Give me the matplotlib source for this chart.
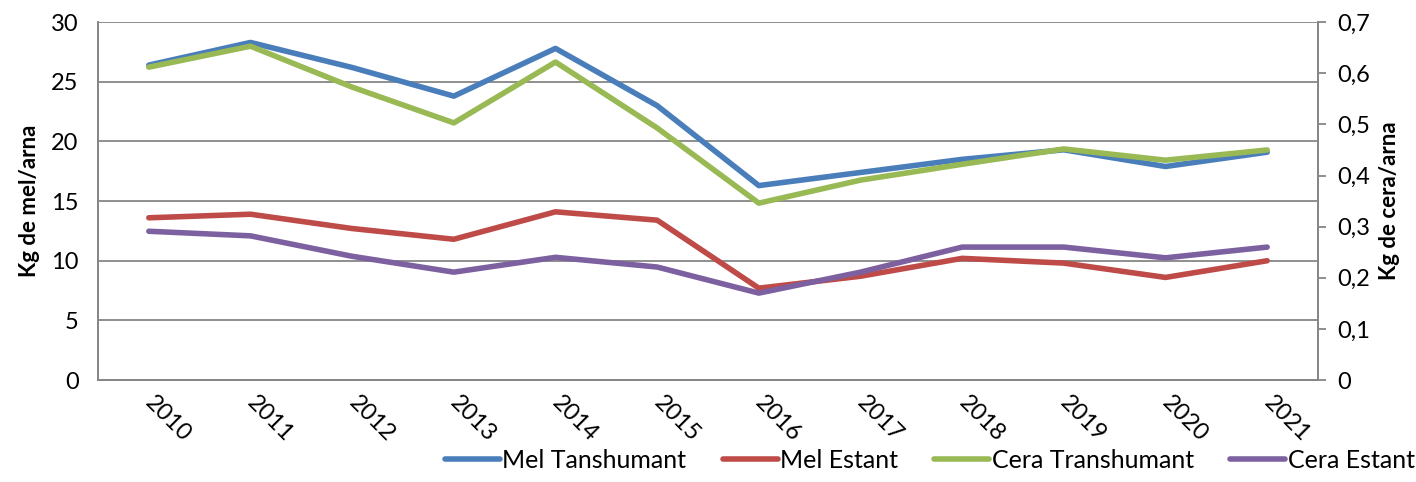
import matplotlib
matplotlib.use("Agg")
import matplotlib.pyplot as plt
from matplotlib.ticker import FuncFormatter

plt.rcParams['font.family'] = ['Lato', 'DejaVu Sans']

years = ['2010', '2011', '2012', '2013', '2014', '2015',
         '2016', '2017', '2018', '2019', '2020', '2021']
mel_trans = [26.4, 28.3, 26.2, 23.8, 27.8, 23.0, 16.3, 17.4, 18.5, 19.3, 17.9, 19.1]
mel_estant = [13.6, 13.9, 12.7, 11.8, 14.1, 13.4, 7.7, 8.7, 10.2, 9.8, 8.6, 10.0]
cera_trans = [0.612, 0.653, 0.573, 0.503, 0.622, 0.493, 0.346, 0.391, 0.422, 0.452, 0.430, 0.450]
cera_estant = [0.291, 0.282, 0.242, 0.211, 0.240, 0.221, 0.170, 0.211, 0.260, 0.260, 0.239, 0.260]

c_blue = '#4A7EBB'
c_red = '#BE4B48'
c_green = '#98B954'
c_purple = '#7D60A0'
grey = '#868686'

fig = plt.figure(figsize=(14.16, 4.82), dpi=100)
ax = fig.add_axes([0.0692, 0.2116, 0.8616, 0.7424])
ax2 = ax.twinx()

x = range(len(years))
l1, = ax.plot(x, mel_trans, color=c_blue, lw=4, solid_capstyle='round', label='Mel Tanshumant')
l2, = ax.plot(x, mel_estant, color=c_red, lw=4, solid_capstyle='round', label='Mel Estant')
l3, = ax2.plot(x, cera_trans, color=c_green, lw=4, solid_capstyle='round', label='Cera Transhumant')
l4, = ax2.plot(x, cera_estant, color=c_purple, lw=4, solid_capstyle='round', label='Cera Estant')

ax.set_xlim(-0.5, len(years) - 0.5)
ax.set_ylim(0, 30)
ax.set_yticks(range(0, 31, 5))
ax2.set_ylim(0, 0.7)
ax2.set_yticks([i / 10 for i in range(8)])
ax2.yaxis.set_major_formatter(FuncFormatter(lambda v, p: '0' if v == 0 else f'{v:.1f}'.replace('.', ',')))

ax.yaxis.grid(True, color=grey, lw=1.3)
ax.set_axisbelow(True)

for a in (ax, ax2):
    a.spines['top'].set_visible(False)
    for s in ('left', 'right', 'bottom'):
        a.spines[s].set_color(grey)
        a.spines[s].set_linewidth(1.3)

ax.tick_params(axis='y', length=0, labelsize=17, pad=14)
ax.tick_params(axis='x', length=0, pad=14)
ax2.tick_params(axis='y', length=6, color=grey, width=1.3, labelsize=17, pad=8)

ax.set_xticks(list(x))
ax.set_xticklabels(years, rotation=-45, ha='left', va='center', rotation_mode='anchor', fontsize=17)

ax.set_ylabel('Kg de mel/arna', fontsize=16, fontweight='bold', labelpad=8)
ax2.set_ylabel('Kg de cera/arna', fontsize=16, fontweight='bold', labelpad=6, rotation=90)

fig.legend(handles=[l1, l2, l3, l4], loc='lower right', bbox_to_anchor=(1.015, -0.025),
           ncol=4, frameon=False, fontsize=18, handlelength=2.2, handletextpad=0.1,
           columnspacing=1.45)

fig.savefig('out.png', dpi=100)
